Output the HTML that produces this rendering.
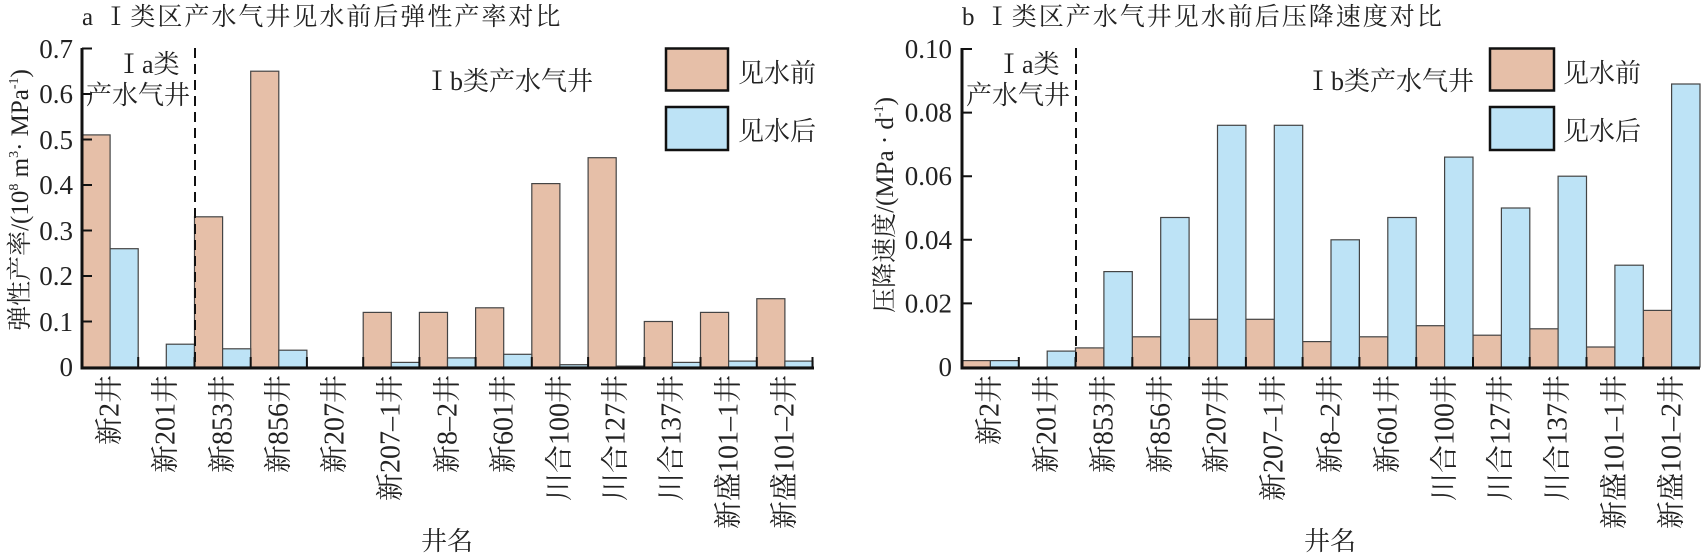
<!DOCTYPE html>
<html><head><meta charset="utf-8"><style>html,body{margin:0;padding:0;background:#fff}svg{display:block}</style></head><body>
<svg width="1701" height="554" viewBox="0 0 1701 554" xmlns="http://www.w3.org/2000/svg" font-family="Liberation Serif, Noto Serif CJK SC, serif" fill="#222">
<!-- LEFT CHART -->
<text x="82" y="25" font-size="25" letter-spacing="2">a Ⅰ类区产水气井见水前后弹性产率对比</text>
<g font-size="27" text-anchor="end">
<text x="73" y="376">0</text><text x="73" y="331">0.1</text><text x="73" y="285">0.2</text><text x="73" y="240">0.3</text><text x="73" y="194">0.4</text><text x="73" y="149">0.5</text><text x="73" y="103">0.6</text><text x="73" y="58">0.7</text>
</g>
<text transform="translate(28,200) rotate(-90)" font-size="25" text-anchor="middle">弹性产率/(10<tspan font-size="14" dy="-10">8</tspan><tspan dy="10"> m</tspan><tspan font-size="14" dy="-10">3</tspan><tspan dy="10">· MPa</tspan><tspan font-size="14" dy="-10">-1</tspan><tspan dy="10">)</tspan></text>
<g stroke="#444" stroke-width="1.2">
<g fill="#e6bfa8">
<rect x="82" y="134.9" width="28.1" height="232.1"/><rect x="194.5" y="216.8" width="28.1" height="150.2"/><rect x="250.7" y="71.2" width="28.1" height="295.8"/><rect x="363.2" y="312.4" width="28.1" height="54.6"/><rect x="419.4" y="312.4" width="28.1" height="54.6"/><rect x="475.6" y="307.8" width="28.1" height="59.2"/><rect x="531.8" y="183.6" width="28.1" height="183.4"/><rect x="588.1" y="157.7" width="28.1" height="209.3"/><rect x="644.3" y="321.5" width="28.1" height="45.5"/><rect x="700.5" y="312.4" width="28.1" height="54.6"/><rect x="756.8" y="298.7" width="28.1" height="68.3"/>
</g>
<g fill="#bde3f6">
<rect x="110.1" y="248.7" width="28.1" height="118.3"/><rect x="166.3" y="344.2" width="28.1" height="22.8"/><rect x="222.6" y="348.8" width="28.1" height="18.2"/><rect x="278.8" y="350.2" width="28.1" height="16.8"/><rect x="391.3" y="362.4" width="28.1" height="4.6"/><rect x="447.5" y="357.9" width="28.1" height="9.1"/><rect x="503.7" y="354.3" width="28.1" height="12.7"/><rect x="559.9" y="364.7" width="28.1" height="2.3"/><rect x="616.2" y="366.1" width="28.1" height="0.9"/><rect x="672.4" y="362.4" width="28.1" height="4.6"/><rect x="728.6" y="361.1" width="28.1" height="5.9"/><rect x="784.9" y="361.1" width="28.1" height="5.9"/>
</g>
</g>
<g stroke="#111" stroke-width="3" fill="none"><path d="M82,48 V368 H814"/></g>
<g stroke="#111" stroke-width="2"><path d="M82,48.5h10M82,94h10M82,139.5h10M82,185h10M82,230.5h10M82,276h10M82,321.5h10"/>
<path d="M138.2,367v-10M194.5,367v-10M250.7,367v-10M306.9,367v-10M363.2,367v-10M419.4,367v-10M475.6,367v-10M531.8,367v-10M588.1,367v-10M644.3,367v-10M700.5,367v-10M756.8,367v-10M812.5,367v-10"/></g>
<line x1="195" y1="48" x2="195" y2="367" stroke="#111" stroke-width="2" stroke-dasharray="10,6"/>
<text x="116" y="73" font-size="26">Ⅰa类</text><text x="86" y="104" font-size="26">产水气井</text>
<text x="424" y="90" font-size="26">Ⅰb类产水气井</text>
<rect x="666" y="48.5" width="62" height="42" fill="#e6bfa8" stroke="#111" stroke-width="2.5"/><text x="738" y="82" font-size="26">见水前</text>
<rect x="666" y="107" width="62" height="43" fill="#bde3f6" stroke="#111" stroke-width="2.5"/><text x="738" y="140" font-size="26">见水后</text>
<g font-size="28" text-anchor="end" dominant-baseline="central">
<text transform="translate(110,375) rotate(-90)">新2井</text><text transform="translate(166,375) rotate(-90)">新201井</text><text transform="translate(223,375) rotate(-90)">新853井</text><text transform="translate(279,375) rotate(-90)">新856井</text><text transform="translate(335,375) rotate(-90)">新207井</text><text transform="translate(391,375) rotate(-90)">新207–1井</text><text transform="translate(448,375) rotate(-90)">新8–2井</text><text transform="translate(504,375) rotate(-90)">新601井</text><text transform="translate(560,375) rotate(-90)">川合100井</text><text transform="translate(616,375) rotate(-90)">川合127井</text><text transform="translate(672,375) rotate(-90)">川合137井</text><text transform="translate(729,375) rotate(-90)">新盛101–1井</text><text transform="translate(785,375) rotate(-90)">新盛101–2井</text>
</g>
<text x="447" y="550" font-size="26" text-anchor="middle">井名</text>

<!-- RIGHT CHART -->
<text x="962" y="25" font-size="25" letter-spacing="2">b Ⅰ类区产水气井见水前后压降速度对比</text>
<g font-size="27" text-anchor="end">
<text x="952" y="376">0</text><text x="952" y="312.4">0.02</text><text x="952" y="248.8">0.04</text><text x="952" y="185.2">0.06</text><text x="952" y="121.6">0.08</text><text x="952" y="58">0.10</text>
</g>
<text transform="translate(893,205) rotate(-90)" font-size="25" text-anchor="middle">压降速度/(MPa · d<tspan font-size="14" dy="-10">-1</tspan><tspan dy="10">)</tspan></text>
<g stroke="#444" stroke-width="1.2">
<g fill="#e6bfa8">
<rect x="962" y="360.6" width="28.4" height="6.4"/><rect x="1075.5" y="347.9" width="28.4" height="19.1"/><rect x="1132.3" y="336.8" width="28.4" height="30.2"/><rect x="1189.1" y="319.3" width="28.4" height="47.7"/><rect x="1245.9" y="319.3" width="28.4" height="47.7"/><rect x="1302.6" y="341.6" width="28.4" height="25.4"/><rect x="1359.4" y="336.8" width="28.4" height="30.2"/><rect x="1416.2" y="325.7" width="28.4" height="41.3"/><rect x="1473" y="335.2" width="28.4" height="31.8"/><rect x="1529.7" y="328.8" width="28.4" height="38.2"/><rect x="1586.5" y="347" width="28.4" height="20"/><rect x="1643.2" y="310.4" width="28.4" height="56.6"/>
</g>
<g fill="#bde3f6">
<rect x="990.4" y="360.6" width="28.4" height="6.4"/><rect x="1047.2" y="351.1" width="28.4" height="15.9"/><rect x="1103.9" y="271.6" width="28.4" height="95.4"/><rect x="1160.7" y="217.5" width="28.4" height="149.5"/><rect x="1217.5" y="125.3" width="28.4" height="241.7"/><rect x="1274.3" y="125.3" width="28.4" height="241.7"/><rect x="1331" y="239.8" width="28.4" height="127.2"/><rect x="1387.8" y="217.5" width="28.4" height="149.5"/><rect x="1444.6" y="157.1" width="28.4" height="209.9"/><rect x="1501.4" y="208" width="28.4" height="159"/><rect x="1558.1" y="176.2" width="28.4" height="190.8"/><rect x="1614.9" y="265.2" width="28.4" height="101.8"/><rect x="1671.6" y="84" width="28.4" height="283"/>
</g>
</g>
<g stroke="#111" stroke-width="3" fill="none"><path d="M962,48 V368 H1700"/></g>
<g stroke="#111" stroke-width="2"><path d="M962,49h10M962,112.6h10M962,176.2h10M962,239.8h10M962,303.4h10"/>
<path d="M1018.8,367v-10M1075.5,367v-10M1132.3,367v-10M1189.1,367v-10M1245.9,367v-10M1302.6,367v-10M1359.4,367v-10M1416.2,367v-10M1473,367v-10M1529.7,367v-10M1586.5,367v-10M1643.2,367v-10"/></g>
<line x1="1076" y1="48" x2="1076" y2="367" stroke="#111" stroke-width="2" stroke-dasharray="10,6"/>
<text x="996" y="73" font-size="26">Ⅰa类</text><text x="966" y="104" font-size="26">产水气井</text>
<text x="1305" y="90" font-size="26">Ⅰb类产水气井</text>
<rect x="1490" y="48.5" width="64" height="42" fill="#e6bfa8" stroke="#111" stroke-width="2.5"/><text x="1563" y="82" font-size="26">见水前</text>
<rect x="1490" y="107" width="64" height="43" fill="#bde3f6" stroke="#111" stroke-width="2.5"/><text x="1563" y="140" font-size="26">见水后</text>
<g font-size="28" text-anchor="end" dominant-baseline="central">
<text transform="translate(990,375) rotate(-90)">新2井</text><text transform="translate(1047,375) rotate(-90)">新201井</text><text transform="translate(1104,375) rotate(-90)">新853井</text><text transform="translate(1161,375) rotate(-90)">新856井</text><text transform="translate(1217,375) rotate(-90)">新207井</text><text transform="translate(1274,375) rotate(-90)">新207–1井</text><text transform="translate(1331,375) rotate(-90)">新8–2井</text><text transform="translate(1388,375) rotate(-90)">新601井</text><text transform="translate(1445,375) rotate(-90)">川合100井</text><text transform="translate(1501,375) rotate(-90)">川合127井</text><text transform="translate(1558,375) rotate(-90)">川合137井</text><text transform="translate(1615,375) rotate(-90)">新盛101–1井</text><text transform="translate(1672,375) rotate(-90)">新盛101–2井</text>
</g>
<text x="1330" y="550" font-size="26" text-anchor="middle">井名</text>
</svg>
</body></html>
